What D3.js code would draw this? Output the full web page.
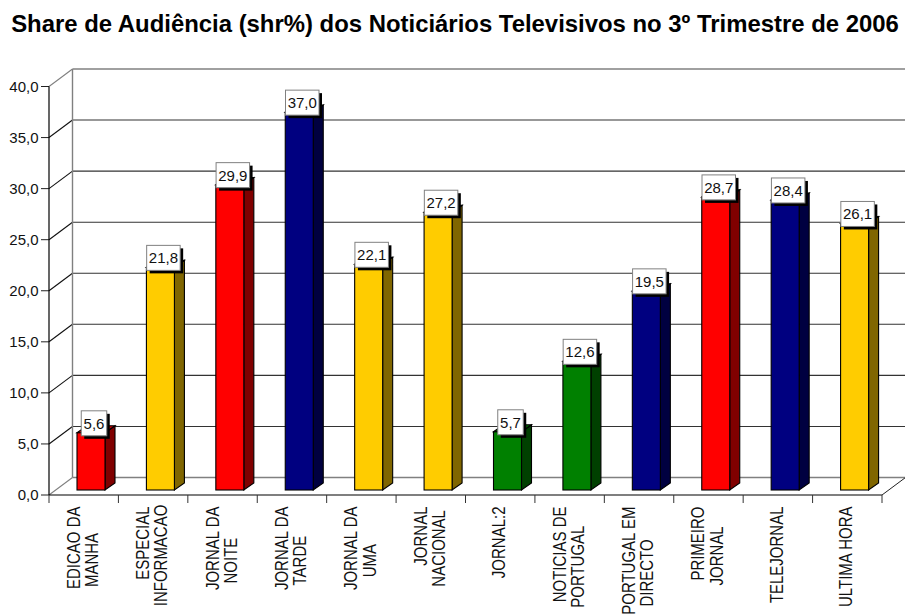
<!DOCTYPE html>
<html><head><meta charset="utf-8">
<script src="https://cdn.jsdelivr.net/npm/d3@7"></script>
<style>html,body{margin:0;padding:0;background:#fff}svg{display:block}text{font-family:"Liberation Sans",Arial,sans-serif;fill:#111}</style>
</head><body><svg id="c" width="905" height="614"></svg>
<script>
const titleText = "Share de Audiência (shr%) dos Noticiários Televisivos no 3º Trimestre de 2006";
const categories = [["EDICAO DA","MANHA"],["ESPECIAL","INFORMACAO"],["JORNAL DA","NOITE"],["JORNAL DA","TARDE"],["JORNAL DA","UMA"],["JORNAL","NACIONAL"],["JORNAL:2"],["NOTICIAS DE","PORTUGAL"],["PORTUGAL EM","DIRECTO"],["PRIMEIRO","JORNAL"],["TELEJORNAL"],["ULTIMA HORA"]];
const values = [5.6,21.8,29.9,37.0,22.1,27.2,5.7,12.6,19.5,28.7,28.4,26.1];
const barColors = ["#ff0000","#ffcc00","#ff0000","#000080","#ffcc00","#ffcc00","#008000","#008000","#000080","#ff0000","#000080","#ffcc00"];
const yTicks = [0,5,10,15,20,25,30,35,40];

const fmt = v => v.toFixed(1).replace(".", ",");
const svg = d3.select("#c");
const F = {left:49,right:882,bottom:495,top:86.5};
const depth = {dx:23.5,dy:-17.5};
const barDepth = {dx:10,dy:-7};
const barInset = {dx:7,dy:-5};
const barW = 28;
const W = 905;

const y = d3.scaleLinear().domain([0,40]).range([F.bottom,F.top]);
const x = d3.scaleBand().domain(d3.range(categories.length)).range([F.left,F.right]);

svg.append("text").attr("x",455).attr("y",32).attr("text-anchor","middle")
  .attr("font-size",23.9).attr("font-weight","bold").style("fill","#000").text(titleText);

const g = svg.append("g");
const wallL = F.left+depth.dx;
yTicks.forEach(t=>{
  const yy=y(t)+depth.dy;
  const col=(t===0||t===40)?"#808080":"#333";
  g.append("line").attr("x1",wallL).attr("x2",W).attr("y1",yy).attr("y2",yy).attr("stroke",col).attr("stroke-width",t===0||t===40?1.4:1.1);
  g.append("line").attr("x1",F.left).attr("y1",y(t)).attr("x2",wallL).attr("y2",yy)
    .attr("stroke",(t===0||t===40)?"#808080":"#111").attr("stroke-width",1.1);
  g.append("line").attr("x1",F.left-8).attr("x2",F.left).attr("y1",y(t)).attr("y2",y(t)).attr("stroke","#222").attr("stroke-width",1);
  svg.append("text").attr("x",38.5).attr("y",y(t)+5.4).attr("text-anchor","end").attr("font-size",15).text(fmt(t));
});
g.append("line").attr("x1",wallL).attr("x2",wallL).attr("y1",y(0)+depth.dy).attr("y2",y(40)+depth.dy).attr("stroke","#808080").attr("stroke-width",1.4);
g.append("line").attr("x1",F.right).attr("y1",F.bottom).attr("x2",F.right+depth.dx).attr("y2",F.bottom+depth.dy).attr("stroke","#222").attr("stroke-width",1);
g.append("line").attr("x1",F.left).attr("x2",F.left).attr("y1",y(0)).attr("y2",y(40)).attr("stroke","#000").attr("stroke-width",1.2);
g.append("line").attr("x1",F.left).attr("x2",F.right).attr("y1",y(0)).attr("y2",y(0)).attr("stroke","#000").attr("stroke-width",1.2);
d3.range(categories.length+1).forEach(i=>{
  const xx=F.left+i*x.step();
  g.append("line").attr("x1",xx).attr("x2",xx).attr("y1",F.bottom).attr("y2",F.bottom+8).attr("stroke","#333").attr("stroke-width",1);
});

const bars = svg.append("g").selectAll("g").data(values).join("g");
bars.each(function(v,i){
  const s=d3.select(this);
  const x0=x(i)+28, x1=x0+barW;
  const yb=y(0)+barInset.dy, yt=y(v)+barInset.dy;
  const dx=barDepth.dx, dy=barDepth.dy;
  const c=barColors[i];
  const dark=d3.rgb(c); const side=`rgb(${dark.r/2},${dark.g/2},${dark.b/2})`;
  const top=`rgb(${dark.r*.75},${dark.g*.75},${dark.b*.75})`;
  s.append("path").attr("d",`M${x1},${yt}L${x1+dx},${yt+dy}L${x1+dx},${yb+dy}L${x1},${yb}Z`).attr("fill",side).attr("stroke","#000").attr("stroke-width",1.1);
  s.append("path").attr("d",`M${x0},${yt}L${x0+dx},${yt+dy}L${x1+dx},${yt+dy}L${x1},${yt}Z`).attr("fill",top).attr("stroke","#000").attr("stroke-width",1.1);
  s.append("rect").attr("x",x0).attr("y",yt).attr("width",barW).attr("height",yb-yt).attr("fill",c).attr("stroke","#000").attr("stroke-width",1.1);
});
bars.each(function(v,i){
  const s=d3.select(this);
  const cx=x(i)+28+barW/2+3;
  const yt=y(v)+barInset.dy;
  const w=v<10?25.5:33.5, h=25;
  s.append("rect").attr("x",cx-w/2+3).attr("y",yt-22+3).attr("width",w).attr("height",h).attr("fill","#000");
  s.append("rect").attr("x",cx-w/2).attr("y",yt-22).attr("width",w).attr("height",h).attr("fill","#fff").attr("stroke","#808080").attr("stroke-width",1);
  s.append("text").attr("x",cx).attr("y",yt-22+h/2+5.4).attr("text-anchor","middle").attr("font-size",15).text(fmt(v));
});
const stretch=1.18;
categories.forEach((lines,i)=>{
  const cx=x(i)+x.step()/2;
  const two=lines.length>1;
  const first=svg.append("text").attr("transform",`translate(${two?cx-4:cx+4.7},506.5) rotate(-90) scale(1,${stretch})`).attr("text-anchor","end").attr("font-size",15).text(lines[0]);
  if(two){
    const len=first.node().getComputedTextLength();
    svg.append("text").attr("transform",`translate(${cx+14.2},${506.5+len/2+12.3}) rotate(-90) scale(1,${stretch})`).attr("text-anchor","middle").attr("font-size",15).text(lines[1]);
  }
});
</script></body></html>
